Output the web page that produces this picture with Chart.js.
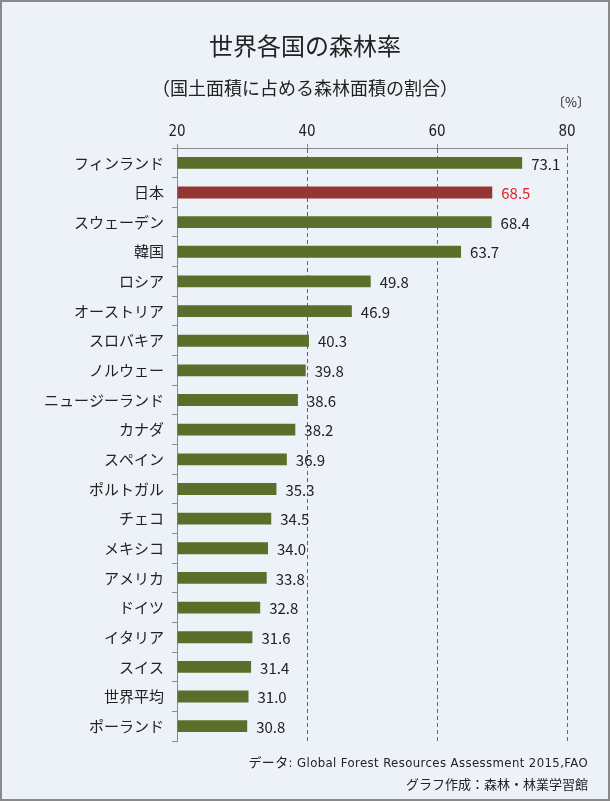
<!DOCTYPE html>
<html><head><meta charset="utf-8">
<script src="https://cdn.jsdelivr.net/npm/chart.js@4/dist/chart.umd.min.js"></script>
<style>
html,body{margin:0;padding:0;}
body{width:610px;height:801px;position:relative;overflow:hidden;background:#edf2f8;font-family:"Noto Sans CJK JP",sans-serif;color:#222;}
#frame{position:absolute;left:0;top:0;width:606px;height:797px;border:2px solid #8a8a8a;}
#c{position:absolute;left:0;top:0;}
.t{position:absolute;white-space:nowrap;}
#title{left:0;width:610px;text-align:center;top:30px;font-size:24px;line-height:30px;}
#sub{left:0;width:610px;text-align:center;top:75px;font-size:18px;line-height:24px;}
#unit{left:552px;top:93px;font-size:13px;line-height:18px;}
#src1{right:22px;top:754px;font-size:13px;line-height:18px;letter-spacing:0.4px;font-family:"DejaVu Sans Condensed","Noto Sans CJK JP";}
#src2{right:22px;top:775px;font-size:13px;line-height:18px;}
</style></head>
<body>
<div id="frame"></div>
<canvas id="c" width="610" height="801"></canvas>
<div class="t" id="title">世界各国の森林率</div>
<div class="t" id="sub">（国土面積に占める森林面積の割合）</div>
<div class="t" id="unit">〔%〕</div>
<div class="t" id="src1">データ: Global Forest Resources Assessment 2015,FAO</div>
<div class="t" id="src2">グラフ作成：森林・林業学習館</div>
<script>
const categories = ['フィンランド','日本','スウェーデン','韓国','ロシア','オーストリア','スロバキア','ノルウェー','ニュージーランド','カナダ','スペイン','ポルトガル','チェコ','メキシコ','アメリカ','ドイツ','イタリア','スイス','世界平均','ポーランド'];
const values = [73.1,68.5,68.4,63.7,49.8,46.9,40.3,39.8,38.6,38.2,36.9,35.3,34.5,34.0,33.8,32.8,31.6,31.4,31.0,30.8];
const highlight = '日本';
const xTicks = [20,40,60,80];

const GREEN = '#5b6f2a', RED = '#963634';
const barColors = categories.map(c => c === highlight ? RED : GREEN);
const labelColors = categories.map(c => c === highlight ? '#e0202c' : '#222');

const valueLabels = {
  id: 'valueLabels',
  afterDatasetsDraw(chart) {
    const ctx = chart.ctx;
    const meta = chart.getDatasetMeta(0);
    ctx.save();
    ctx.font = '15px "Noto Sans CJK JP", sans-serif';
    ctx.textAlign = 'left';
    ctx.textBaseline = 'middle';
    meta.data.forEach((bar, i) => {
      ctx.fillStyle = labelColors[i];
      ctx.fillText(values[i].toFixed(1), bar.x + 9, bar.y + 1);
    });
    ctx.restore();
  }
};

new Chart(document.getElementById('c'), {
  type: 'bar',
  data: {
    labels: categories,
    datasets: [{
      data: values,
      base: 20,
      backgroundColor: barColors,
      borderWidth: 0,
      barPercentage: 0.8,
      categoryPercentage: 0.5
    }]
  },
  options: {
    indexAxis: 'y',
    responsive: false,
    animation: false,
    devicePixelRatio: 1,
    layout: {padding: {top: 108, right: 43, bottom: 60, left: 0}},
    plugins: {legend: {display: false}, tooltip: {enabled: false}},
    scales: {
      x: {
        position: 'top',
        min: 20, max: 80,
        afterFit: s => { s.height = 40; },
        afterBuildTicks: s => { s.ticks = xTicks.map(v => ({value: v})); },
        ticks: {color: '#222', font: {family: '"DejaVu Sans Condensed"', size: 15}, padding: 3},
        grid: {
          color: ctx => (ctx.tick && ctx.tick.value === 20) ? 'rgba(0,0,0,0)' : '#666',
          lineWidth: 1,
          drawTicks: true,
          tickLength: 4,
          tickColor: '#8a8a8a'
        },
        border: {display: true, color: '#8a8a8a', width: 1, dash: [4, 3]}
      },
      y: {
        afterFit: s => { s.width = 177; },
        ticks: {color: '#222', font: {family: '"Noto Sans CJK JP"', size: 15}, padding: 8},
        grid: {drawOnChartArea: false, drawTicks: true, tickLength: 5, color: '#8a8a8a', offset: true},
        border: {display: true, color: '#8a8a8a', width: 1}
      }
    }
  },
  plugins: [valueLabels]
});
</script>
</body></html>
